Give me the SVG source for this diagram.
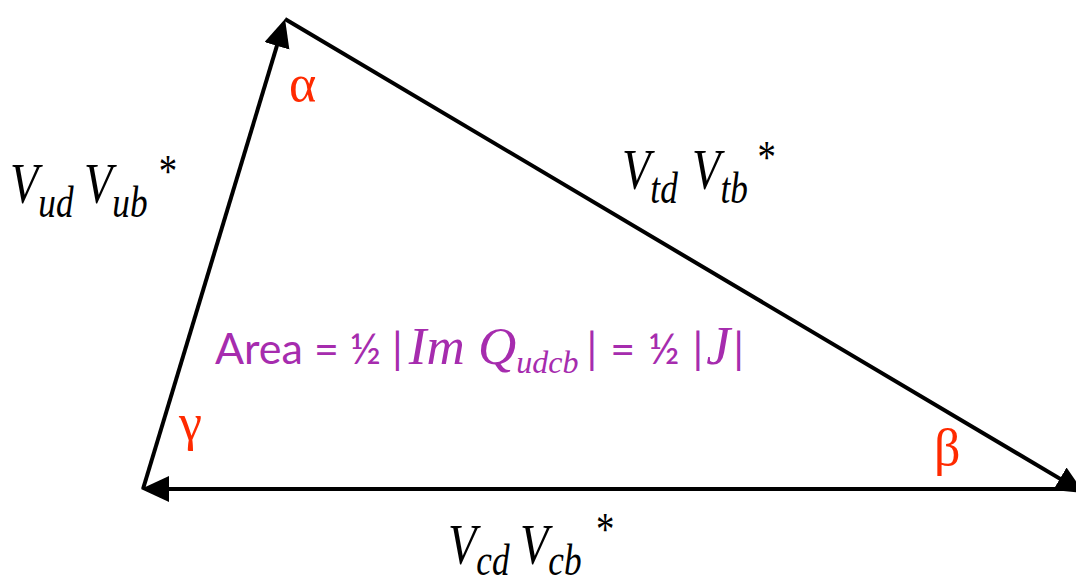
<svg xmlns="http://www.w3.org/2000/svg" width="1076" height="582" viewBox="0 0 1076 582">
<style>
.edge{stroke:#000;stroke-width:4;fill:none}
.ser{font-family:"Liberation Serif","Times New Roman",serif;font-style:italic;fill:#000}
.greek{font-family:"Liberation Serif","Times New Roman",serif;fill:#FF2A00;font-size:52px}
.area{font-family:Lato,"Open Sans",sans-serif;fill:#A62CAE;font-size:43px}
.it{font-family:"Liberation Serif","Times New Roman",serif;font-style:italic}
</style>
<defs>
<marker id="ah" markerUnits="userSpaceOnUse" markerWidth="30" markerHeight="28" refX="20" refY="13" orient="auto">
<path d="M0,0 L28,13 L0,26 z" fill="#000"/>
</marker>
</defs>
<rect width="1076" height="582" fill="#fff"/>
<g id="connectors">
<line class="edge" x1="143" y1="489" x2="282.7" y2="26.7" marker-end="url(#ah)"/>
<line class="edge" x1="285" y1="19" x2="1077.1" y2="488.9" marker-end="url(#ah)"/>
<line class="edge" x1="1095" y1="489" x2="149" y2="489" marker-end="url(#ah)"/>
</g>
<g id="label-ud-ub" transform="translate(10,203) scale(0.8,1)">
<text class="ser" font-size="58">V<tspan font-size="44" dy="14">ud</tspan><tspan dx="13" dy="-14">V</tspan><tspan font-size="44" dy="14">ub</tspan><tspan font-size="46" dx="12" dy="-30">*</tspan></text>
</g>
<g id="label-td-tb" transform="translate(622,189) scale(0.8,1)">
<text class="ser" font-size="58">V<tspan font-size="44" dy="14">td</tspan><tspan dx="18" dy="-14">V</tspan><tspan font-size="44" dy="14">tb</tspan><tspan font-size="46" dx="10" dy="-30">*</tspan></text>
</g>
<g id="label-cd-cb" transform="translate(448,564) scale(0.8,1)">
<text class="ser" font-size="58">V<tspan font-size="44" dy="11">cd</tspan><tspan dx="13" dy="-11">V</tspan><tspan font-size="44" dy="11">cb</tspan><tspan font-size="46" dx="16" dy="-30">*</tspan></text>
</g>
<g id="alpha"><text class="greek" x="289" y="101">α</text></g>
<g id="gamma"><text class="greek" x="179" y="440">γ</text></g>
<g id="beta"><text class="greek" x="934" y="465">β</text></g>
<g id="area-label">
<text class="area" x="215" y="364">Area = ½ |<tspan class="it" font-size="53" dx="6">Im Q</tspan><tspan class="it" font-size="32" dy="9">udcb</tspan><tspan dx="8" dy="-9" word-spacing="2">| = ½ |</tspan><tspan class="it" font-size="54" dx="3">J</tspan><tspan dx="3">|</tspan></text>
</g>
</svg>
